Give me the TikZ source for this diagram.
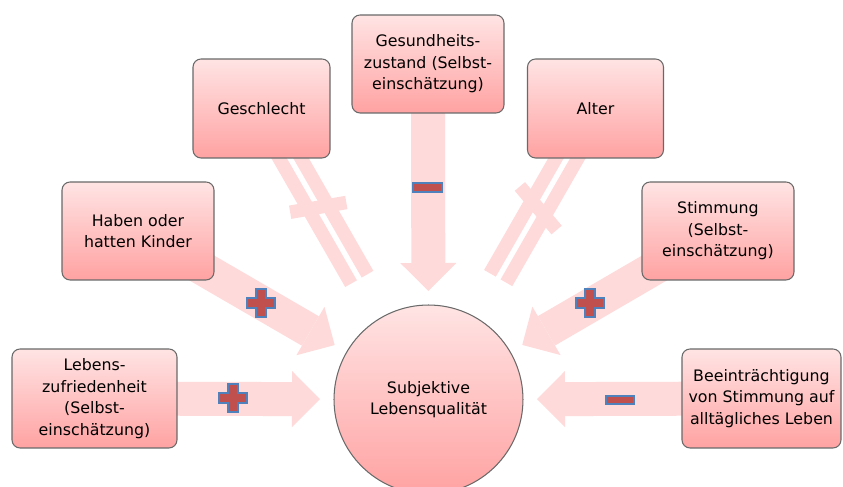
\documentclass[tikz,border=0pt]{standalone}
\usepackage{fontspec}
\setmainfont{DejaVu Sans}
\usepackage{tikz}
\usetikzlibrary{calc, arrows.meta, backgrounds}
\definecolor{boxtop}{RGB}{255,228,228}
\definecolor{boxbottom}{RGB}{255,162,162}
\definecolor{pfeilrosa}{RGB}{255,218,218}
\definecolor{plusrot}{RGB}{192,80,77}
\definecolor{plusblau}{RGB}{79,129,189}
\definecolor{rand}{RGB}{105,105,105}
\tikzset{
  faktor/.style = {draw=rand, line width=0.6pt, rounded corners=0.16cm, top color=boxtop, bottom color=boxbottom, align=center, inner sep=2pt, font=\fontsize{9}{12.3}\selectfont},
  ziel/.style = {circle, draw=rand, line width=0.6pt, top color=boxtop, bottom color=boxbottom, minimum size=3.78cm, inner sep=0pt, align=center, font=\fontsize{9}{12.3}\selectfont},
  pfeil/.style = {draw=pfeilrosa, line width=0.68cm, -{Triangle[length=0.56cm, width=1.12cm, line width=0pt]}},
  balken/.style = {draw=pfeilrosa, line width=0.27cm},
  zeichen/.style = {fill=plusrot, draw=plusblau, line width=0.6pt},
}

\begin{document}
\begin{tikzpicture}[x=0.02cm, y=0.02cm]
\useasboundingbox (0,0) rectangle (843,487);

\node[ziel] (lq) at (428.5,87.5) {Subjektive\\Lebensqualität};

\node[faktor, minimum width=3.3cm, minimum height=1.98cm] (lebens) at (94.5,88.5) {Lebens-\\zufriedenheit\\(Selbst-\\einschätzung)};
\node[faktor, minimum width=3.04cm, minimum height=1.96cm] (kinder) at (138,256) {Haben oder\\hatten Kinder};
\node[faktor, minimum width=2.74cm, minimum height=1.98cm] (geschl) at (261.5,378.5) {Geschlecht};
\node[faktor, minimum width=3.04cm, minimum height=1.96cm] (gesund) at (428,423) {Gesundheits-\\zustand (Selbst-\\einschätzung)};
\node[faktor, minimum width=2.72cm, minimum height=1.98cm] (alter) at (595.5,378.5) {Alter};
\node[faktor, minimum width=3.04cm, minimum height=1.96cm] (stimmung) at (718,256) {Stimmung\\(Selbst-\\einschätzung)};
\node[faktor, minimum width=3.18cm, minimum height=1.98cm] (beein) at (761.5,88.5) {Beeinträchtigung\\von Stimmung auf\\alltägliches Leben};

% Pfeilspitzen kurz vor dem Kreis
\coordinate (tipLebens) at ($(lq.center)!2.17cm!(lebens.center)$);
\coordinate (tipKinder) at ($(lq.center)!2.17cm!(kinder.center)$);
\coordinate (tipGesund) at ($(lq.center)!2.17cm!(gesund.center)$);
\coordinate (tipStimmung) at ($(lq.center)!2.17cm!(stimmung.center)$);
\coordinate (tipBeein) at ($(lq.center)!2.17cm!(beein.center)$);

\begin{scope}[on background layer]
\draw[pfeil] (lebens.center) -- (tipLebens);
\draw[pfeil] (kinder.center) -- (tipKinder);
\draw[pfeil] (gesund.center) -- (tipGesund);
\draw[pfeil] (stimmung.center) -- (tipStimmung);
\draw[pfeil] (beein.center) -- (tipBeein);

% kein Zusammenhang: Geschlecht
\begin{scope}[shift={(geschl.center)}, rotate=-60.15]
\draw[balken] (0,9.5) -- (196.5,9.5);
\draw[balken] (0,-9.5) -- (196.5,-9.5);
\draw[balken] (114,0) ++(70:-28.5) -- ++(70:57);
\end{scope}

% kein Zusammenhang: Alter
\begin{scope}[shift={(alter.center)}, rotate=-119.85]
\draw[balken] (0,9.5) -- (195.5,9.5);
\draw[balken] (0,-9.5) -- (195.5,-9.5);
\draw[balken] (115,0) ++(70:-28.5) -- ++(70:57);
\end{scope}

% Vorzeichen
\foreach \p in {(261,184),(233,89),(590,184)}
  \filldraw[zeichen, shift={\p}] (-5,14) -- (5,14) -- (5,5) -- (14,5) -- (14,-5) -- (5,-5) -- (5,-14) -- (-5,-14) -- (-5,-5) -- (-14,-5) -- (-14,5) -- (-5,5) -- cycle;
\filldraw[zeichen] (413,295) rectangle (442,304);
\filldraw[zeichen] (606,83) rectangle (634,91);
\end{scope}

\end{tikzpicture}
\end{document}
